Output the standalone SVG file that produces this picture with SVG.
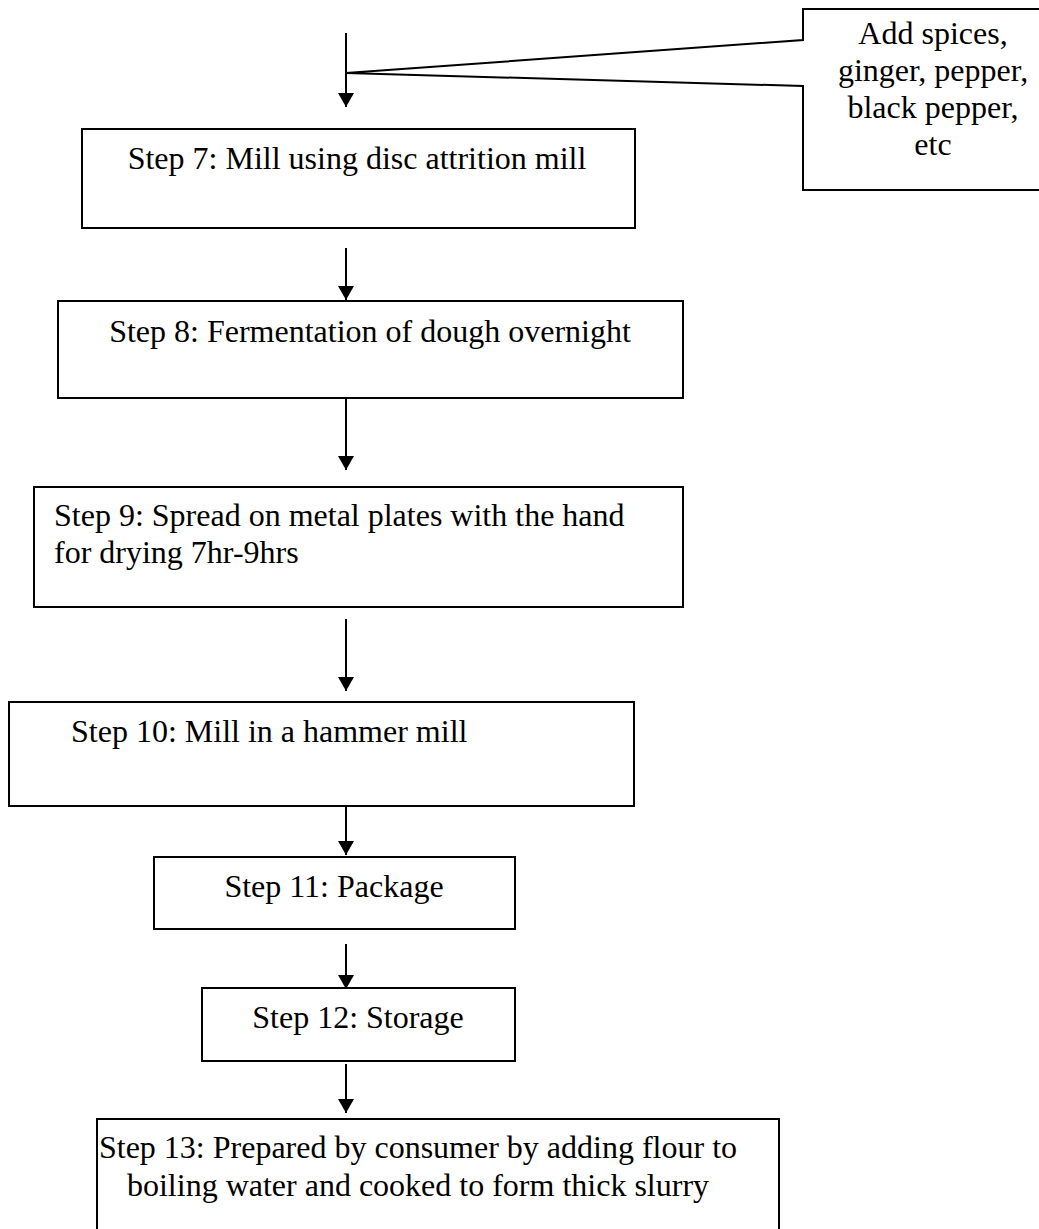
<svg xmlns="http://www.w3.org/2000/svg" width="1039" height="1229" viewBox="0 0 1039 1229">
<style>
.box{fill:#fff;stroke:#000;stroke-width:2}
.t{font-family:"Liberation Serif","Times New Roman",serif;font-size:32px;fill:#000}
.c{text-anchor:middle}
.ln{stroke:#000;stroke-width:2;fill:none}
</style>
<defs>
<marker id="ah" markerUnits="userSpaceOnUse" markerWidth="14" markerHeight="16" viewBox="0 0 14 16" refX="14" refY="8" orient="auto">
<path d="M0,0 L14,8 L0,16 Z" fill="#000"/>
</marker>
</defs>
<rect width="1039" height="1229" fill="#fff"/>
<g id="callout">
<path class="ln" d="M1045,9 H803 V40 L346,73 L803,86 V190 H1045" fill="#fff"/>
<text class="t c" x="933" y="44">Add spices,</text>
<text class="t c" x="933" y="81">ginger, pepper,</text>
<text class="t c" x="933" y="118">black pepper,</text>
<text class="t c" x="933" y="155">etc</text>
</g>
<g id="connectors">
<line class="ln" x1="346" y1="33" x2="346" y2="107" marker-end="url(#ah)"/>
<line class="ln" x1="346" y1="248" x2="346" y2="300" marker-end="url(#ah)"/>
<line class="ln" x1="346" y1="398" x2="346" y2="470" marker-end="url(#ah)"/>
<line class="ln" x1="346" y1="619" x2="346" y2="691" marker-end="url(#ah)"/>
<line class="ln" x1="346" y1="806" x2="346" y2="855" marker-end="url(#ah)"/>
<line class="ln" x1="346" y1="944" x2="346" y2="989" marker-end="url(#ah)"/>
<line class="ln" x1="346" y1="1064" x2="346" y2="1113" marker-end="url(#ah)"/>
</g>
<g id="step7">
<rect class="box" x="82" y="129" width="553" height="99"/>
<text class="t c" x="357" y="169">Step 7: Mill using disc attrition mill</text>
</g>
<g id="step8">
<rect class="box" x="58" y="301" width="625" height="97"/>
<text class="t c" x="370" y="342">Step 8: Fermentation of dough overnight</text>
</g>
<g id="step9">
<rect class="box" x="34" y="487" width="649" height="120"/>
<text class="t" x="54" y="526">Step 9: Spread on metal plates with the hand</text>
<text class="t" x="54" y="563">for drying 7hr-9hrs</text>
</g>
<g id="step10">
<rect class="box" x="9" y="702" width="625" height="104"/>
<text class="t" x="71" y="742">Step 10: Mill in a hammer mill</text>
</g>
<g id="step11">
<rect class="box" x="154" y="857" width="361" height="72"/>
<text class="t c" x="334" y="897">Step 11: Package</text>
</g>
<g id="step12">
<rect class="box" x="202" y="988" width="313" height="73"/>
<text class="t c" x="358" y="1028">Step 12: Storage</text>
</g>
<g id="step13">
<rect class="box" x="97" y="1119" width="682" height="130"/>
<text class="t c" x="418" y="1158">Step 13: Prepared by consumer by adding flour to</text>
<text class="t c" x="418" y="1196">boiling water and cooked to form thick slurry</text>
</g>
</svg>
